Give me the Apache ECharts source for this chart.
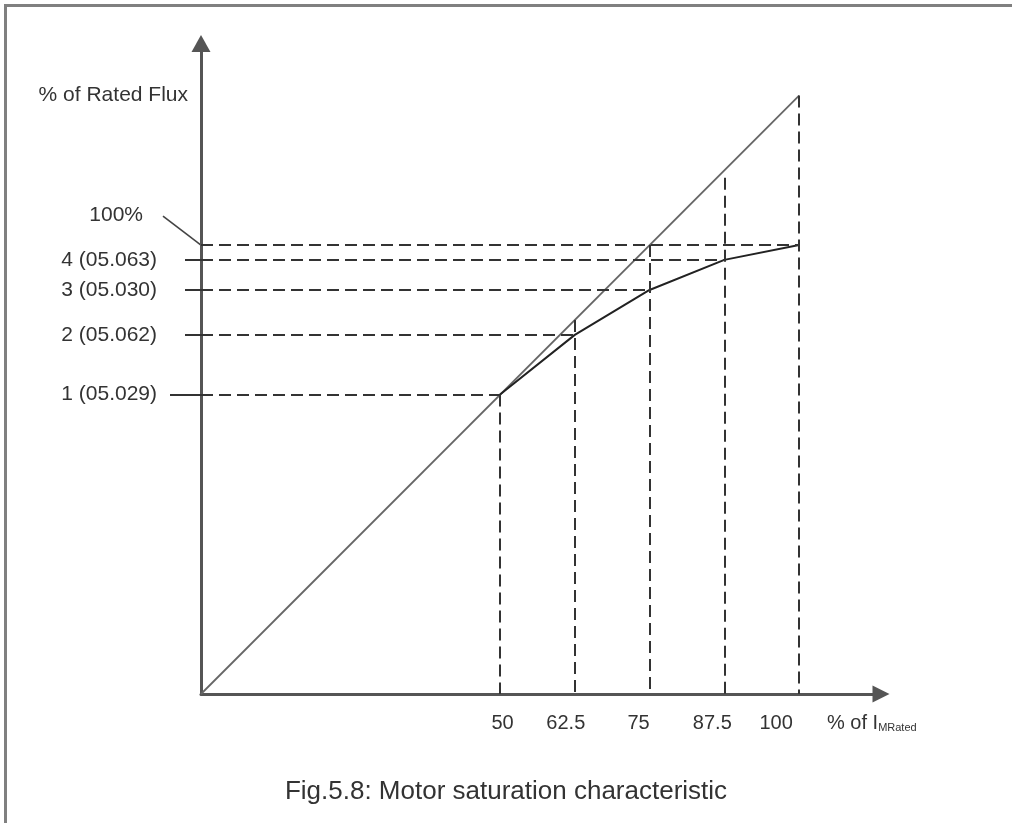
<!DOCTYPE html>
<html><head><meta charset="utf-8">
<script src="https://cdn.jsdelivr.net/npm/echarts@6/dist/echarts.min.js"></script>
<style>html,body{margin:0;padding:0;background:#fff}#c{width:1012px;height:823px}</style>
</head><body><div id="c"></div>
<script>
// ---- data ----
const currentPct = [50, 62.5, 75, 87.5, 100];          // % of I_MRated at break points
const xTickLabels = ['50', '62.5', '75', '87.5', '100'];
const fluxCurve = [66.7, 80, 90, 96.7, 100];            // saturated flux (% of rated)
const linearX = [0, 100];
const linearFlux = [0, 133.3];                          // unsaturated (linear) characteristic
const guideTop = [66.7, 83.3, 100, 115, 133.3];         // top of vertical guide lines
const levelValues = [66.7, 80, 90, 96.7];
const levelLabels = ['1 (05.029)', '2 (05.062)', '3 (05.030)', '4 (05.063)'];
const ratedFlux = 100;
const ratedLabel = '100%';
const yTitle = '% of Rated Flux';
const caption = 'Fig.5.8: Motor saturation characteristic';

// ---- styling ----
const FONT = '"Liberation Sans", Arial, sans-serif';
const TXT = '#333';
const xLabelShift = [2.5, -9, -11, -12, -23];

const chart = echarts.init(document.getElementById('c'), null, {renderer: 'canvas'});

const rich = {};
xLabelShift.forEach((d, i) => {
  rich['s' + i] = {fontSize: 20, fontFamily: FONT, color: TXT,
    padding: d >= 0 ? [0, 0, 0, 2 * d] : [0, -2 * d, 0, 0]};
});

const guides = [];
currentPct.forEach((x, i) => {
  guides.push([{coord: [0, fluxCurve[i]]}, {coord: [x, fluxCurve[i]]}]);
  guides.push([{coord: [x, guideTop[i]]}, {coord: [x, 0]}]);
});

const axisLineStyle = {color: '#555', width: 3};
const xMax = 113.7, yMax = 144.9;

chart.setOption({
  backgroundColor: '#fff',
  animation: false,
  title: {
    text: caption, left: 'center', top: 774,
    textStyle: {fontSize: 26, fontWeight: 'normal', fontFamily: FONT, color: TXT}
  },
  grid: {left: 201, right: 131, top: 43.5, bottom: 129, containLabel: false},
  xAxis: {
    type: 'value', min: 0, max: xMax,
    axisLine: {show: true, lineStyle: axisLineStyle, symbol: ['none', 'triangle'], symbolSize: [17, 17]},
    axisTick: {show: false},
    splitLine: {show: false},
    axisLabel: {
      customValues: currentPct, margin: 19,
      formatter: (v) => { const i = currentPct.indexOf(v); return i < 0 ? '' : '{s' + i + '|' + xTickLabels[i] + '}'; },
      rich: rich, fontSize: 20, fontFamily: FONT, color: TXT
    },
    name: '% of I{sub|MRated}', nameLocation: 'end', nameGap: -54,
    nameTextStyle: {
      fontSize: 20, fontFamily: FONT, color: TXT, align: 'left', verticalAlign: 'top', padding: [19, 0, 0, 0],
      rich: {sub: {fontSize: 11, fontFamily: FONT, color: TXT, verticalAlign: 'bottom'}}
    }
  },
  yAxis: [{
    type: 'value', min: 0, max: yMax,
    axisLine: {show: true, lineStyle: axisLineStyle, symbol: ['none', 'triangle'], symbolSize: [19, 17]},
    axisTick: {show: true, customValues: levelValues.slice(1), length: 16, lineStyle: {color: '#333', width: 2}},
    splitLine: {show: false},
    axisLabel: {
      customValues: levelValues, margin: 44,
      formatter: (v) => { let b = 0; levelValues.forEach((lv, i) => { if (Math.abs(lv - v) < Math.abs(levelValues[b] - v)) b = i; }); return levelLabels[b]; },
      fontSize: 21, fontFamily: FONT, color: TXT
    },
    name: yTitle, nameLocation: 'end', nameGap: -51.5,
    nameTextStyle: {fontSize: 21, fontFamily: FONT, color: TXT, align: 'right', verticalAlign: 'middle', padding: [0, 13, 0, 0]}
  }, {
    type: 'value', min: 0, max: yMax, position: 'left', offset: 0,
    axisLine: {show: false},
    axisTick: {show: true, customValues: levelValues.slice(0, 1), length: 31, lineStyle: {color: '#333', width: 2}},
    axisLabel: {show: false},
    splitLine: {show: false}
  }],
  series: [{
    type: 'line', name: 'linear', data: linearX.map((x, i) => [x, linearFlux[i]]),
    showSymbol: false, lineStyle: {color: '#666', width: 1.8}, silent: true
  }, {
    type: 'line', name: 'saturation', data: currentPct.map((x, i) => [x, fluxCurve[i]]),
    showSymbol: false, lineStyle: {color: '#222', width: 2}, silent: true,
    markLine: {
      silent: true, symbol: ['none', 'none'], label: {show: false},
      lineStyle: {color: '#333', width: 2, type: [12, 6]},
      emphasis: {disabled: true},
      data: guides
    }
  }]
});

// annotation for the 100% rated-flux level + page frame
const p = chart.convertToPixel({gridIndex: 0}, [0, ratedFlux]);
chart.setOption({
  graphic: [
    {type: 'text', x: p[0] - 58, y: p[1] - 30, style: {text: ratedLabel, fill: TXT, font: '21px ' + FONT, align: 'right', verticalAlign: 'middle'}},
    {type: 'line', shape: {x1: p[0] - 38, y1: p[1] - 29, x2: p[0], y2: p[1]}, style: {stroke: '#444', lineWidth: 1.6}},
    {type: 'line', shape: {x1: 5.5, y1: 4, x2: 5.5, y2: 823}, style: {stroke: '#808080', lineWidth: 3}},
    {type: 'line', shape: {x1: 4, y1: 5.5, x2: 1012, y2: 5.5}, style: {stroke: '#808080', lineWidth: 3}}
  ]
});
</script></body></html>
